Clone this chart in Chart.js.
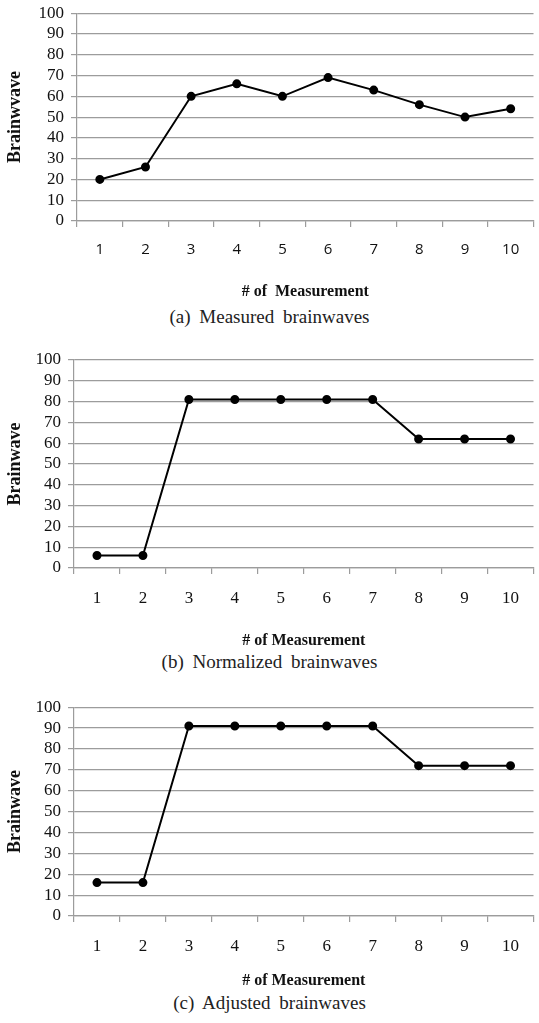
<!DOCTYPE html>
<html>
<head>
<meta charset="utf-8">
<script src="https://cdn.jsdelivr.net/npm/chart.js@4.4.1/dist/chart.umd.min.js"></script>
<style>
  html, body { margin: 0; padding: 0; background: #fff; }
  body { width: 539px; height: 1023px; position: relative; overflow: hidden; }
  .box { position: absolute; left: 0; width: 539px; }
  .caption {
    position: absolute; left: 0; width: 539px; text-align: center;
    font-family: "Liberation Serif", serif; font-size: 19px; color: #222;
    word-spacing: 4px;
  }
</style>
</head>
<body>
<div class="box" id="boxA" style="top:-4px;height:305px"><canvas id="chartA"></canvas></div>
<div class="caption" style="top:306px">(a) Measured brainwaves</div>
<div class="box" id="boxB" style="top:340px;height:310px"><canvas id="chartB"></canvas></div>
<div class="caption" style="top:651px">(b) Normalized brainwaves</div>
<div class="box" id="boxC" style="top:690px;height:300px"><canvas id="chartC"></canvas></div>
<div class="caption" style="top:992px">(c) Adjusted brainwaves</div>
<script>
// data
const measurements = ['1', '2', '3', '4', '5', '6', '7', '8', '9', '10'];
const measured = [20, 26, 60, 66, 60, 69, 63, 56, 50, 54];
const normalized = [6, 6, 81, 81, 81, 81, 81, 62, 62, 62];
const adjusted = [16, 16, 91, 91, 91, 91, 91, 72, 72, 72];
const yTicks = [0, 10, 20, 30, 40, 50, 60, 70, 80, 90, 100];

const serif = '"Liberation Serif", "Times New Roman", serif';
const gridColor = '#9c9c9c';

function makeChart(id, values, opts) {
  const ctx = document.getElementById(id).getContext('2d');
  return new Chart(ctx, {
    type: 'line',
    data: {
      labels: measurements,
      datasets: [{
        data: values,
        borderColor: '#000',
        backgroundColor: '#000',
        borderWidth: 2,
        pointRadius: 3.5,
        pointHoverRadius: 3.5,
        tension: 0
      }]
    },
    options: {
      responsive: true,
      maintainAspectRatio: false,
      animation: false,
      layout: { padding: { top: opts.padTop, right: 0, left: 0, bottom: 0 } },
      plugins: { legend: { display: false }, tooltip: { enabled: false } },
      scales: {
        x: {
          offset: true,
          grid: {
            offset: true,
            drawOnChartArea: false,
            drawTicks: true,
            tickLength: 6,
            color: gridColor,
            lineWidth: 1.2
          },
          border: { display: true, color: gridColor, width: 1.2 },
          ticks: {
            color: '#111',
            padding: opts.xTickPad,
            font: opts.xFont,
            maxRotation: 0,
            autoSkip: false
          },
          title: {
            display: true,
            text: opts.xTitle,
            color: '#111',
            font: { family: serif, size: 16, weight: 'bold' },
            padding: { top: opts.xTitlePad, bottom: 0 }
          },
          afterFit: (scale) => { scale.height = opts.xHeight; }
        },
        y: {
          min: 0,
          max: 100,
          afterBuildTicks: (scale) => { scale.ticks = yTicks.map(v => ({ value: v })); },
          grid: {
            color: gridColor,
            lineWidth: 1.2,
            drawTicks: true,
            tickLength: 6
          },
          border: { display: true, color: gridColor, width: 1.2 },
          ticks: {
            color: '#111',
            padding: 7,
            autoSkip: false,
            font: { family: serif, size: 17 }
          },
          title: {
            display: true,
            text: opts.yTitle,
            color: '#111',
            font: { family: serif, size: 18, weight: 'bold' },
            padding: { top: 5, bottom: 0 }
          },
          afterFit: (scale) => { scale.width = opts.yWidth; }
        }
      }
    }
  });
}

makeChart('chartA', measured, {
  padTop: 17, yWidth: 77, xHeight: 80, xTickPad: 14, xTitlePad: 0,
  xTitle: '# of  Measurement', yTitle: 'Brainwvave',
  xFont: { family: '"Open Sans", sans-serif', size: 15 }
});
makeChart('chartB', normalized, {
  padTop: 20, yWidth: 74, xHeight: 82, xTickPad: 14, xTitlePad: 3,
  xTitle: '# of Measurement', yTitle: 'Brainwave',
  xFont: { family: serif, size: 17 }
});
makeChart('chartC', adjusted, {
  padTop: 16, yWidth: 74, xHeight: 74, xTickPad: 14, xTitlePad: 8,
  xTitle: '# of Measurement', yTitle: 'Brainwave',
  xFont: { family: serif, size: 17 }
});
</script>
</body>
</html>
